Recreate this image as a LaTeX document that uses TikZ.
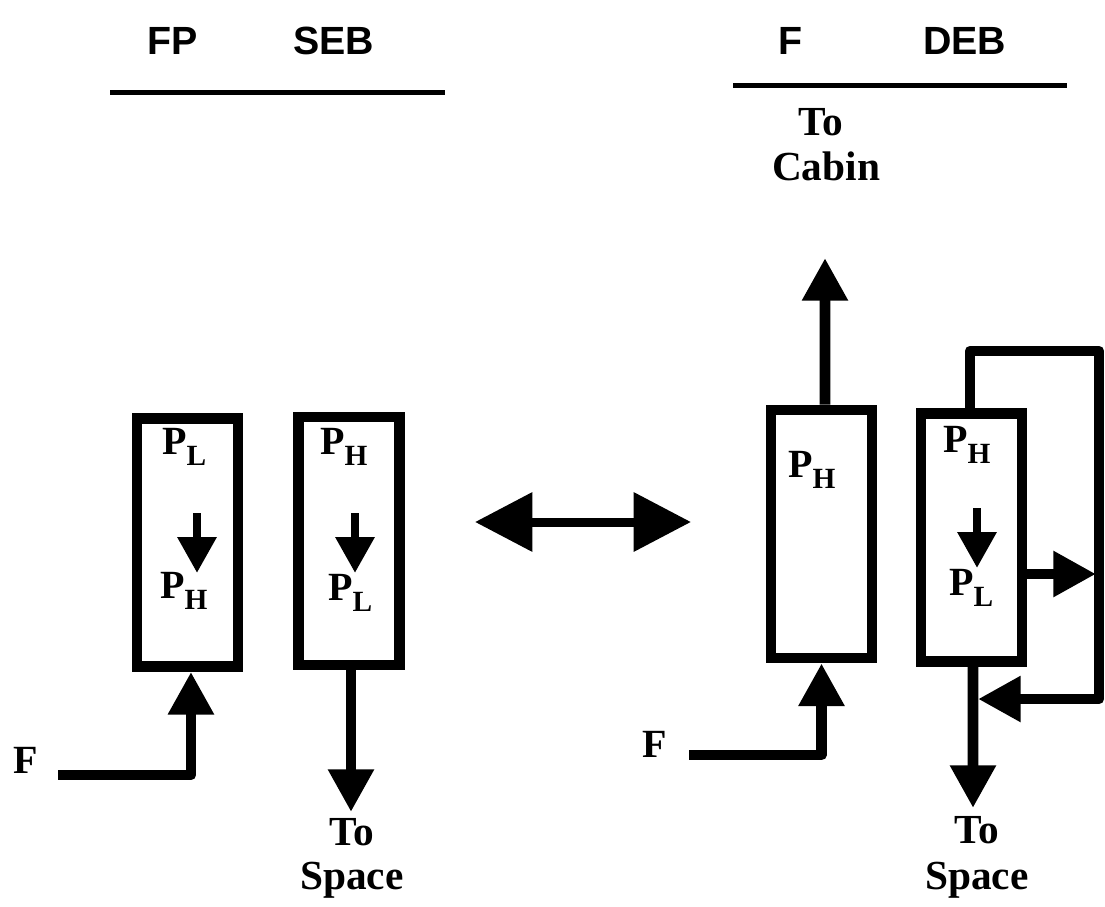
\documentclass[tikz,border=0pt]{standalone}
\usepackage{fontspec}
\setmainfont{Liberation Serif}
\setsansfont{Liberation Sans}
\usetikzlibrary{arrows.meta}

\newcommand\Psub[1]{P\raisebox{-8.25pt}{\fontsize{22}{22}\selectfont #1}}

\begin{document}
\begin{tikzpicture}[x=0.75pt,y=-0.75pt,
  lbl/.style={font=\fontsize{30}{32}\selectfont\bfseries, inner sep=0, anchor=base west},
  clbl/.style={font=\fontsize{31}{32}\selectfont\bfseries, inner sep=0, anchor=base},
  hdr/.style={font=\fontsize{29.5}{30}\selectfont\sffamily\bfseries, inner sep=0, anchor=base west},
  vessel/.style={draw, line width=8pt, minimum width=75.75pt, minimum height=186pt, inner sep=0},
  conn/.style={line width=8pt, -{Triangle[length=32pt,width=32.5pt]}, line join=round},
  flow/.style={line width=6.3pt, -{Triangle[length=27pt,width=28pt]}},
  dbl/.style={line width=6.75pt, {Triangle[length=43pt,width=43pt]}-{Triangle[length=43pt,width=43pt]}},
  rulel/.style={line width=3.75pt}]

\useasboundingbox (0,0) rectangle (1105,906);

% headers
\node[hdr] (hFP) at (147,55) {FP};
\node[hdr] (hSEB) at (293,55) {SEB};
\node[hdr] (hF) at (778,55) {F};
\node[hdr] (hDEB) at (923,55) {DEB};
\coordinate (r1a) at (110,92);
\coordinate (r1b) at (445,92);
\coordinate (r2a) at (733,85);
\coordinate (r2b) at (1067,85);
\draw[rulel] (r1a) -- (r1b);
\draw[rulel] (r2a) -- (r2b);

% vessels
\node[vessel] (box1) at (187.5,542.5) {};
\node[vessel] (box2) at (349,541) {};
\node[vessel] (box3) at (821.5,534) {};
\node[vessel] (box4) at (971.5,537.5) {};

% labels inside vessels
\node[lbl] (b1t) at (162,454) {\Psub{L}};
\node[lbl] (b1b) at (160,598) {\Psub{H}};
\node[lbl] (b2t) at (320,454) {\Psub{H}};
\node[lbl] (b2b) at (328,600) {\Psub{L}};
\node[lbl] (b3t) at (788,477) {\Psub{H}};
\node[lbl] (b4t) at (943,452) {\Psub{H}};
\node[lbl] (b4b) at (949,595) {\Psub{L}};

% small internal arrows
\coordinate (s1a) at (197,513); \coordinate (s1b) at (197,573);
\coordinate (s2a) at (355,513); \coordinate (s2b) at (355,573);
\coordinate (s4a) at (977,508); \coordinate (s4b) at (977,568);
\draw[flow] (s1a) -- (s1b);
\draw[flow] (s2a) -- (s2b);
\draw[flow] (s4a) -- (s4b);

% outer labels
\node[lbl] (fL) at (13,773) {F};
\node[lbl] (fR) at (642,757) {F};
\node[clbl] (to1) at (352,845) {To};
\node[clbl] (sp1) at (352,889) {Space};
\node[clbl] (to2) at (977,843) {To};
\node[clbl] (sp2) at (977,889) {Space};
\node[clbl] (to3) at (821,135) {To};
\node[clbl] (cab) at (826,180) {Cabin};

% left connectors
\coordinate (fl) at (58,775);
\draw[conn] (fl) -| ([xshift=2.6pt]box1.south);
\coordinate (sp1tip) at (351,812);
\draw[conn] ([xshift=1.5pt]box2.south) -- (sp1tip);

% double arrow
\coordinate (dl) at (475,522);
\coordinate (dr) at (691,522);
\draw[dbl] (dl) -- (dr);

% right connectors
\coordinate (cabtip) at (825,258);
\draw[conn] ([xshift=2.6pt]box3.north) -- (cabtip);
\coordinate (fr) at (689,755);
\draw[conn] (fr) -| (box3.south);
\coordinate (sp2tip) at (973,808);
\draw[conn] ([xshift=1.1pt]box4.south) -- (sp2tip);
\coordinate (loopc) at (1099,351);
\coordinate (looptip) at (978,699);
\draw[conn] ([xshift=-1.1pt]box4.north) |- (loopc) |- (looptip);
\coordinate (sidetip) at (1096,574);
\draw[conn] (box4.east |- sidetip) -- (sidetip);

\end{tikzpicture}
\end{document}
